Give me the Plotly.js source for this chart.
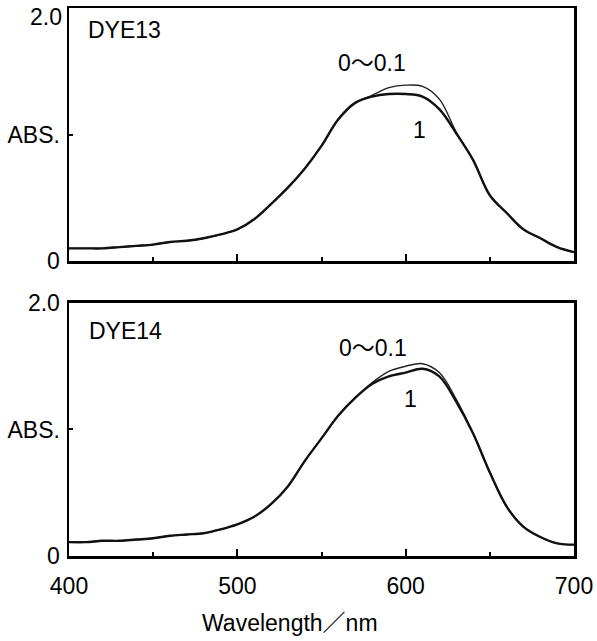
<!DOCTYPE html>
<html>
<head>
<meta charset="utf-8">
<script src="https://cdn.plot.ly/plotly-3.0.1.min.js"></script>
<style>html,body{margin:0;padding:0;background:#fff;}#chart{width:597px;height:641px;}</style>
</head>
<body>
<div id="chart"></div>
<script>
// Wavelength (nm)
const wavelength = [400,410,420,430,440,450,460,470,480,490,500,510,520,530,540,550,560,570,580,590,600,610,620,630,640,650,660,670,680,690,700];
// DYE13 absorbance
const dye13_conc1  = [0.10,0.10,0.10,0.11,0.12,0.13,0.15,0.16,0.18,0.21,0.25,0.33,0.45,0.58,0.73,0.91,1.12,1.25,1.30,1.32,1.32,1.30,1.20,1.01,0.80,0.52,0.38,0.25,0.18,0.11,0.07];
const dye13_conc0  = [0.10,0.10,0.10,0.11,0.12,0.13,0.15,0.16,0.18,0.21,0.25,0.33,0.45,0.58,0.73,0.91,1.12,1.25,1.31,1.37,1.39,1.38,1.28,1.02,0.80,0.52,0.38,0.25,0.18,0.11,0.07];
// DYE14 absorbance
const dye14_conc1  = [0.11,0.11,0.12,0.12,0.13,0.14,0.16,0.17,0.18,0.21,0.25,0.31,0.41,0.55,0.75,0.93,1.11,1.25,1.36,1.42,1.45,1.48,1.42,1.22,0.97,0.66,0.39,0.23,0.15,0.10,0.09];
const dye14_conc0  = [0.11,0.11,0.12,0.12,0.13,0.14,0.16,0.17,0.18,0.21,0.25,0.31,0.41,0.55,0.75,0.93,1.11,1.25,1.37,1.46,1.50,1.52,1.45,1.24,0.97,0.66,0.39,0.23,0.15,0.10,0.09];
// Labels
const panelNames = ["DYE13","DYE14"];
const seriesLabels = ["0〜0.1","1"];
const xTickVals = [400,500,600,700];
const xMinorVals = [450,550,650];
const yTickVals = [0,1,2];
const yTickTextTop = ["0","ABS.",""];
const yTickText = ["0","ABS.","2.0"];
const yTopLabel = "2.0";
const xTitle = "Wavelength／nm";

const FONT = "Liberation Sans, Arial, 'Noto Sans CJK JP', sans-serif";
const thick = {color:"#111", width:2.4, shape:"spline", smoothing:1.0};
const thin  = {color:"#222", width:1.4, shape:"spline", smoothing:1.0};

const traces = [
  {x:wavelength, y:dye13_conc0, xaxis:"x", yaxis:"y", mode:"lines", line:thin},
  {x:wavelength, y:dye13_conc1, xaxis:"x", yaxis:"y", mode:"lines", line:thick},
  {x:wavelength, y:dye14_conc0, xaxis:"x2", yaxis:"y2", mode:"lines", line:thin},
  {x:wavelength, y:dye14_conc1, xaxis:"x2", yaxis:"y2", mode:"lines", line:thick}
];

const FS = 23;
function xax(showLabels, anchor){
  return {
    range:[400,700], anchor:anchor, showgrid:false, zeroline:false,
    showline:true, mirror:true, linecolor:"#000", linewidth:2.5,
    ticks:"inside", ticklen:7, tickwidth:2, tickcolor:"#000",
    tickvals:xTickVals, showticklabels:showLabels,
    tickfont:{family:FONT, size:FS, color:"#000"}, ticklabelstandoff:8,
    minor:{tickvals:xMinorVals, ticks:"inside", ticklen:4, tickwidth:2, tickcolor:"#000"}
  };
}
function yax(domain, anchor, text){
  return {
    range:[0,2], domain:domain, anchor:anchor, showgrid:false, zeroline:false,
    showline:true, mirror:true, linecolor:"#000", linewidth:2.5,
    ticks:"inside", ticklen:4, tickwidth:2, tickcolor:"#000",
    tickvals:yTickVals, ticktext:text,
    tickfont:{family:FONT, size:FS, color:"#000"}, ticklabelstandoff:2
  };
}

const annFont = {family:FONT, size:FS, color:"#000"};
const layout = {
  width:597, height:641,
  margin:{l:69, r:23, t:8, b:85},
  paper_bgcolor:"#fff", plot_bgcolor:"#fff",
  showlegend:false,
  xaxis:xax(false,"y"),
  yaxis:yax([0.5383,1],"x",yTickTextTop),
  xaxis2:xax(true,"y2"),
  yaxis2:yax([0,0.4617],"x2",yTickText),
  annotations:[
    {x:0, y:1.93, xref:"paper", yref:"y", text:yTopLabel, showarrow:false, xanchor:"right", yanchor:"middle", xshift:-5, font:annFont},
    {x:410, y:1.83, xref:"x", yref:"y", text:panelNames[0], showarrow:false, xanchor:"left", yanchor:"middle", font:annFont},
    {x:410.5, y:1.78, xref:"x2", yref:"y2", text:panelNames[1], showarrow:false, xanchor:"left", yanchor:"middle", font:annFont},
    {x:580, y:1.565, xref:"x", yref:"y", text:seriesLabels[0], showarrow:false, xanchor:"center", yanchor:"middle", font:annFont},
    {x:608, y:1.035, xref:"x", yref:"y", text:seriesLabels[1], showarrow:false, xanchor:"center", yanchor:"middle", font:annFont},
    {x:580.3, y:1.645, xref:"x2", yref:"y2", text:seriesLabels[0], showarrow:false, xanchor:"center", yanchor:"middle", font:annFont},
    {x:602.6, y:1.24, xref:"x2", yref:"y2", text:seriesLabels[1], showarrow:false, xanchor:"center", yanchor:"middle", font:annFont},
    {x:0.4376, y:-0.122, xref:"paper", yref:"paper", text:xTitle, showarrow:false, xanchor:"center", yanchor:"middle", font:annFont}
  ]
};

Plotly.newPlot("chart", traces, layout, {staticPlot:true, displayModeBar:false});
</script>
</body>
</html>
